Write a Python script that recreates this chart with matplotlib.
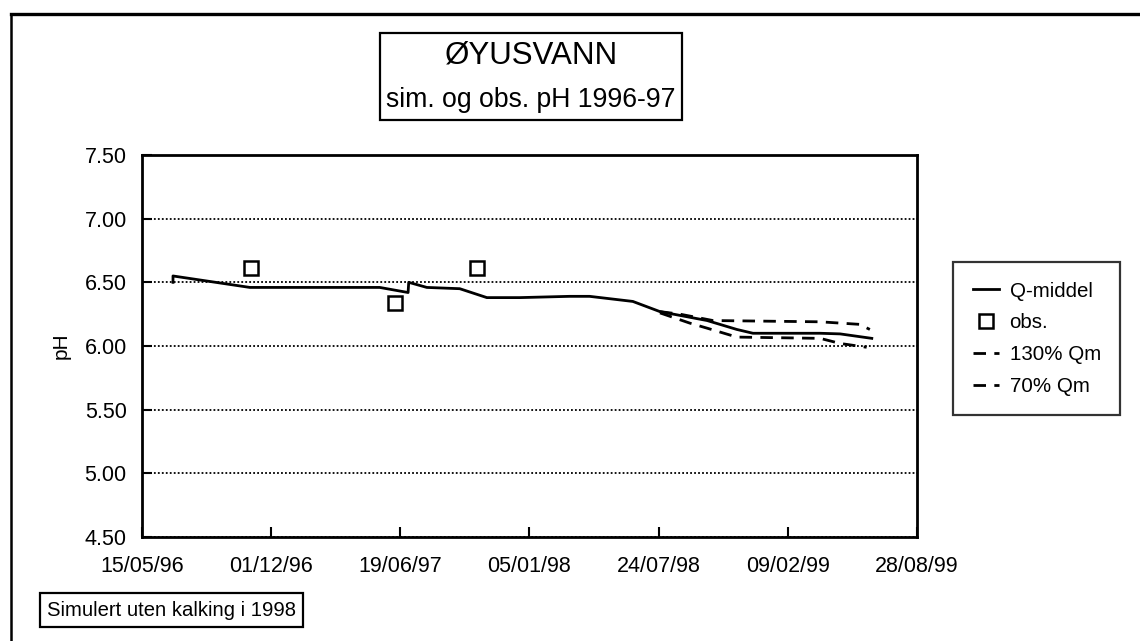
import pandas as pd
import matplotlib
matplotlib.use("Agg")
import matplotlib.pyplot as plt
import matplotlib.dates as mdates
from matplotlib.lines import Line2D

plt.rcParams["font.family"] = ["Liberation Sans", "DejaVu Sans"]

# ---- data ----
sim_dates = ["1996-07-02", "1996-07-02", "1996-10-29", "1997-05-18", "1997-07-01",
             "1997-07-02", "1997-07-30", "1997-09-19", "1997-10-31", "1997-12-21",
             "1998-03-08", "1998-04-08", "1998-06-14", "1998-07-26", "1998-10-07",
             "1998-11-22", "1998-12-17", "1999-03-31", "1999-05-01", "1999-06-19"]
sim_ph = [6.50, 6.55, 6.46, 6.46, 6.42,
          6.50, 6.46, 6.45, 6.38, 6.38,
          6.39, 6.39, 6.35, 6.27, 6.20,
          6.13, 6.10, 6.10, 6.095, 6.06]

obs_dates = ["1996-10-31", "1997-06-11", "1997-10-16"]
obs_ph = [6.61, 6.34, 6.61]

q130_dates = ["1998-07-26", "1998-08-26", "1998-10-16", "1999-03-31", "1999-05-31", "1999-06-16"]
q130_ph = [6.27, 6.25, 6.20, 6.19, 6.17, 6.13]

q70_dates = ["1998-07-26", "1998-09-10", "1998-10-07", "1998-11-22", "1999-03-31",
             "1999-05-01", "1999-06-11"]
q70_ph = [6.26, 6.18, 6.14, 6.07, 6.06, 6.02, 5.99]

x_ticks = ["1996-05-15", "1996-12-01", "1997-06-19", "1998-01-05",
           "1998-07-24", "1999-02-09", "1999-08-28"]
y_ticks = [4.5, 5.0, 5.5, 6.0, 6.5, 7.0, 7.5]

title = "ØYUSVANN"
subtitle = "sim. og obs. pH 1996-97"
note = "Simulert uten kalking i 1998"

# ---- figure ----
fig = plt.figure(figsize=(11.4, 6.41), dpi=100)
ax = fig.add_axes([142 / 1140, 1 - 537 / 641, (917 - 142) / 1140, (537 - 155) / 641])

ax.plot(pd.to_datetime(sim_dates), sim_ph, color="black", lw=2, label="Q-middel")
ax.plot(pd.to_datetime(obs_dates), obs_ph, ls="none", marker="s", ms=9.5,
        mfc="white", mec="black", mew=1.8, label="obs.")
ax.plot(pd.to_datetime(q130_dates), q130_ph, color="black", lw=2,
        dashes=(4.5, 3), label="130% Qm")
ax.plot(pd.to_datetime(q70_dates), q70_ph, color="black", lw=2,
        dashes=(4.5, 3), label="70% Qm")

xt = pd.to_datetime(x_ticks)
ax.set_xlim(xt[0], xt[-1])
ax.set_xticks(xt)
ax.xaxis.set_major_formatter(mdates.DateFormatter("%d/%m/%y"))
ax.set_ylim(4.5, 7.5)
ax.set_yticks(y_ticks)
ax.set_yticklabels([f"{v:.2f}" for v in y_ticks])
ax.tick_params(direction="in", length=7, width=1.5, labelsize=15.5, pad=11, colors="black")
ax.tick_params(axis="x", pad=14)
for s in ax.spines.values():
    s.set_linewidth(2)
ax.grid(axis="y", color="black", ls=(0, (1, 1.2)), lw=1.3)
ax.set_ylabel("pH", fontsize=15, labelpad=10)

leg = fig.legend(loc="upper left", bbox_to_anchor=(953 / 1140, 1 - 262 / 641),
                 frameon=True, fancybox=False, fontsize=14.8, handlelength=1.3,
                 handletextpad=0.5, labelspacing=0.62, borderpad=0.95,
                 borderaxespad=0)
leg.get_frame().set_edgecolor("black")
leg.get_frame().set_linewidth(1.6)

fig.text(531 / 1140, 1 - 56 / 641, title, ha="center", va="center", fontsize=22.5)
fig.text(531 / 1140, 1 - 100 / 641, subtitle, ha="center", va="center", fontsize=19.2)
fig.patches.append(plt.Rectangle((380 / 1140, 1 - 120 / 641), 302 / 1140, 87 / 641,
                                 transform=fig.transFigure, fill=False, ec="black", lw=1.6))

box = dict(boxstyle="square,pad=0.35", fc="white", ec="black", lw=1.6)
fig.text(47 / 1140, 1 - 610 / 641, note, ha="left", va="center", fontsize=14.6, bbox=box)

# outer frame (left and top edges)
fig.add_artist(Line2D([11 / 1140, 11 / 1140], [0, 1 - 14 / 641], color="black", lw=1.8,
                      transform=fig.transFigure))
fig.add_artist(Line2D([11 / 1140, 1], [1 - 14 / 641, 1 - 14 / 641], color="black", lw=2.4,
                      transform=fig.transFigure))

fig.savefig("out.png", dpi=100)
